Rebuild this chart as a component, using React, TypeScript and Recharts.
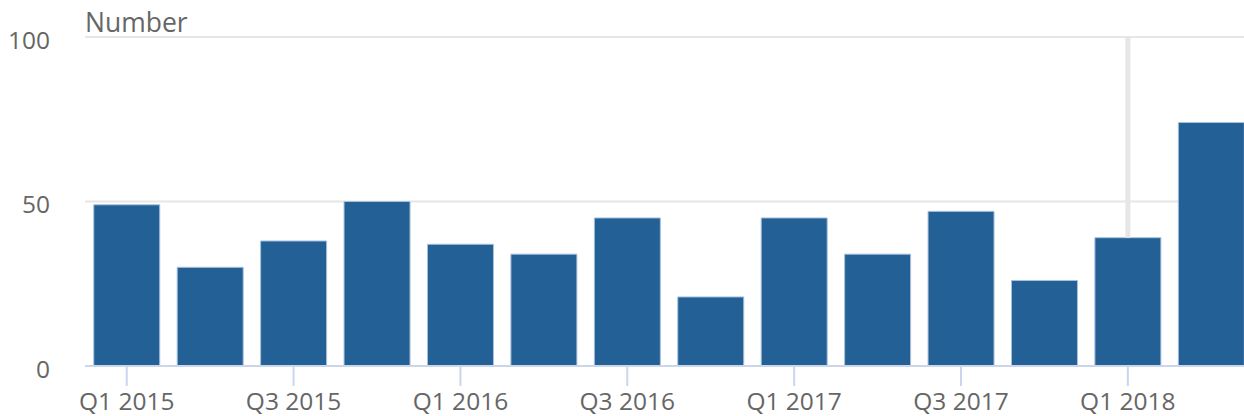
import { BarChart, Bar, XAxis, YAxis, CartesianGrid, ReferenceLine } from 'recharts'

const quarters = [
  'Q1 2015', 'Q2 2015', 'Q3 2015', 'Q4 2015',
  'Q1 2016', 'Q2 2016', 'Q3 2016', 'Q4 2016',
  'Q1 2017', 'Q2 2017', 'Q3 2017', 'Q4 2017',
  'Q1 2018', 'Q2 2018',
]
const counts = [49, 30, 38, 50, 37, 34, 45, 21, 45, 34, 47, 26, 39, 74]
const yTicks = [0, 50, 100]
const highlighted = 'Q1 2018'

const data = quarters.map((q, i) => ({ quarter: q, value: counts[i] }))
const highlightValue = counts[quarters.indexOf(highlighted)]

const font = '"Open Sans", sans-serif'
const textColor = '#666666'

export default function App() {
  return (
    <div style={{ position: 'fixed', top: 0, left: 0, width: 1244, height: 416, overflow: 'hidden', background: '#fff' }}>
      <div style={{ position: 'absolute', left: 85, top: 6, fontFamily: font, fontSize: 26.5, color: textColor, lineHeight: '32px' }}>
        Number
      </div>
      <BarChart
        width={1253}
        height={416}
        data={data}
        margin={{ top: 37, right: 0, bottom: 0, left: 0 }}
        barCategoryGap="10.5%"
      >
        <CartesianGrid horizontal vertical={false} stroke="#e6e6e6" strokeWidth={2} />
        <XAxis
          dataKey="quarter"
          interval={1}
          height={50}
          tickSize={20}
          tickMargin={7}
          axisLine={{ stroke: '#ccd6eb', strokeWidth: 2 }}
          tickLine={{ stroke: '#ccd6eb', strokeWidth: 2 }}
          tick={{ fill: textColor, fontSize: 24.5, fontFamily: font }}
        />
        <YAxis
          width={85}
          domain={[0, 100]}
          ticks={yTicks}
          axisLine={false}
          tickLine={false}
          tickSize={0}
          tickMargin={35}
          tick={{ fill: textColor, fontSize: 24.5, fontFamily: font, dy: 3 }}
        />
        <ReferenceLine
          segment={[{ x: highlighted, y: 100 }, { x: highlighted, y: highlightValue }]}
          stroke="#e6e6e6"
          strokeWidth={5}
        />
        <Bar dataKey="value" fill="#226096" stroke="#a9c1dc" strokeWidth={1} isAnimationActive={false} />
      </BarChart>
    </div>
  )
}
